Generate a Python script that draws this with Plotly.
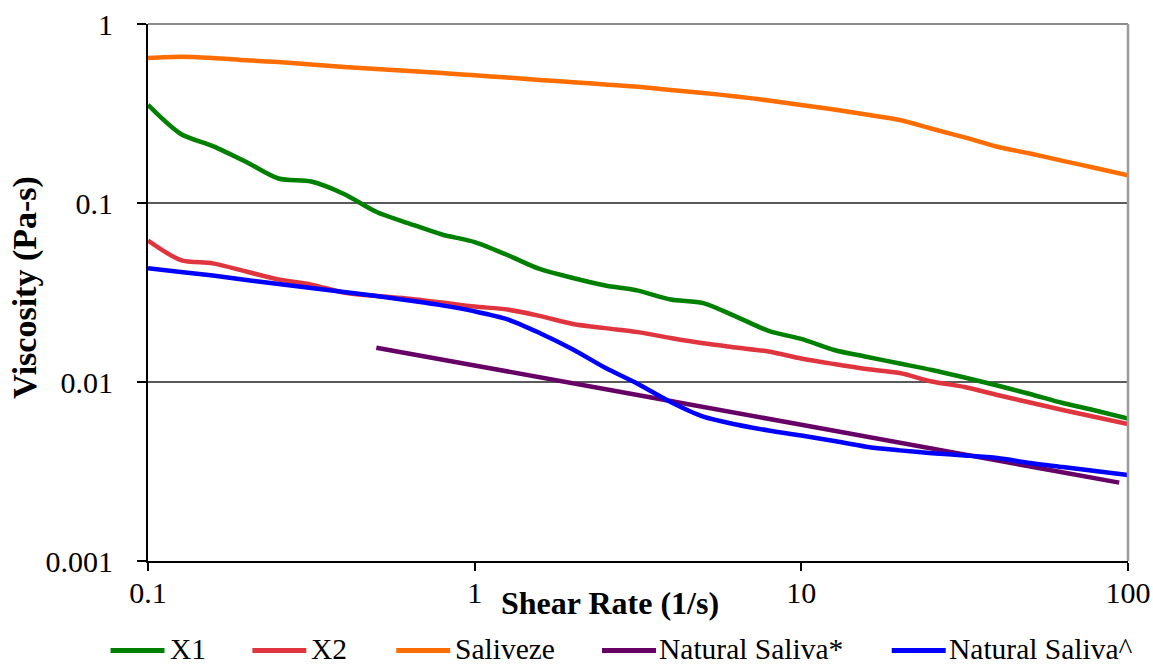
import plotly.graph_objects as go

# Shear rate grid (1/s), ten points per decade
shear_rate = [0.1, 0.126, 0.158, 0.2, 0.251, 0.316, 0.398, 0.501, 0.631, 0.794,
              1.0, 1.26, 1.58, 2.0, 2.51, 3.16, 3.98, 5.01, 6.31, 7.94,
              10.0, 12.6, 15.8, 20.0, 25.1, 31.6, 39.8, 50.1, 63.1, 79.4, 100.0]

# Viscosity (Pa-s) for each formulation
visc_x1 = [0.353, 0.243, 0.208, 0.1695, 0.137, 0.1318, 0.1123, 0.0891, 0.0768, 0.0667,
           0.0605, 0.0512, 0.0428, 0.0381, 0.0346, 0.0324, 0.0289, 0.0276, 0.0232, 0.0193,
           0.0174, 0.0151, 0.01384, 0.01269, 0.01167, 0.01059, 0.00956, 0.00857, 0.00763, 0.00693, 0.00625]
visc_x2 = [0.0617, 0.048, 0.0460, 0.0414, 0.0374, 0.0350, 0.0316, 0.0302, 0.0292, 0.0278,
           0.0264, 0.0254, 0.0234, 0.0211, 0.0200, 0.0190, 0.0176, 0.01645, 0.01559, 0.0148,
           0.01353, 0.0126, 0.01182, 0.01122, 0.01006, 0.00938, 0.00846, 0.00768, 0.00698, 0.00638, 0.00583]
visc_saliveze = [0.646, 0.657, 0.646, 0.627, 0.613, 0.594, 0.575, 0.561, 0.546, 0.532,
                 0.517, 0.502, 0.487, 0.473, 0.459, 0.446, 0.428, 0.412, 0.394, 0.374,
                 0.353, 0.333, 0.312, 0.291, 0.260, 0.2325, 0.2063, 0.189, 0.172, 0.157, 0.143]
visc_natural_caret = [0.0432, 0.0412, 0.0393, 0.0371, 0.0353, 0.0335, 0.0318, 0.0302, 0.0285, 0.0268,
                      0.0248, 0.0224, 0.0188, 0.0152, 0.0120, 0.00975, 0.00773, 0.0064, 0.00579, 0.00536,
                      0.00502, 0.00468, 0.00435, 0.00415, 0.0040, 0.00389, 0.00376, 0.00353, 0.00335, 0.00318, 0.00302]

# Natural Saliva* covers a narrower shear-rate span
shear_rate_star = [0.5, 1.0, 10.0, 94.0]
visc_natural_star = [0.01555, 0.01237, 0.00577, 0.00274]

x_ticks = [0.1, 1, 10, 100]
x_tick_text = ["0.1", "1", "10", "100"]
y_ticks = [0.001, 0.01, 0.1, 1]
y_tick_text = ["0.001", "0.01", "0.1", "1"]

series = [
    ("X1", shear_rate, visc_x1, "#008000"),
    ("X2", shear_rate, visc_x2, "#E0353F"),
    ("Saliveze", shear_rate, visc_saliveze, "#FF6D00"),
    ("Natural Saliva*", shear_rate_star, visc_natural_star, "#660066"),
    ("Natural Saliva^", shear_rate, visc_natural_caret, "#0000FF"),
]

FONT = "Liberation Serif"
W, H = 1153, 664
L, R, T, B = 147.5, 1128.5, 24, 561  # plot area edges in pixels


def px(xp):
    return (xp - L) / (R - L)


def py(yp):
    return (B - yp) / (B - T)


fig = go.Figure()
# draw order: Saliveze, X1, X2, Natural Saliva*, Natural Saliva^
for idx in [2, 0, 1, 3, 4]:
    name, xs, ys, color = series[idx]
    fig.add_trace(go.Scatter(
        x=xs, y=ys, name=name, mode="lines",
        line=dict(color=color, width=4.5, shape="spline", smoothing=0.8),
        showlegend=False,
    ))

shapes = [
    # top and right frame
    dict(type="line", xref="paper", yref="paper", x0=0, x1=1, y0=1, y1=1,
         line=dict(color="#8C8C8C", width=2), layer="above"),
    dict(type="line", xref="paper", yref="paper", x0=1, x1=1, y0=0, y1=1,
         line=dict(color="#9A9A9A", width=2.5), layer="above"),
]
annotations = [
    dict(text="<b>Viscosity (Pa-s)</b>", textangle=-90, xref="paper", yref="paper",
         x=px(24), y=py(287), xanchor="center", yanchor="middle", showarrow=False,
         font=dict(family=FONT, size=34, color="black")),
    dict(text="<b>Shear Rate (1/s)</b>", xref="paper", yref="paper",
         x=px(610), y=py(603), xanchor="center", yanchor="middle", showarrow=False,
         font=dict(family=FONT, size=32, color="black")),
]

# legend row along the bottom edge
legend_pos = [(110, 167.5), (252, 309), (396, 453), (602, 657), (892, 947)]
for (name, _, _, color), (lx, tx) in zip(series, legend_pos):
    shapes.append(dict(type="line", xref="paper", yref="paper",
                       x0=px(lx), x1=px(lx + 54), y0=py(650.5), y1=py(650.5),
                       line=dict(color=color, width=5)))
    annotations.append(dict(text=name, xref="paper", yref="paper",
                            x=px(tx), y=py(648.5), xanchor="left", yanchor="middle",
                            showarrow=False,
                            font=dict(family=FONT, size=29.5, color="black")))

fig.update_layout(
    width=W, height=H,
    margin=dict(l=L, r=W - R, t=T, b=H - B, pad=0, autoexpand=False),
    paper_bgcolor="white", plot_bgcolor="white",
    font=dict(family=FONT, size=30, color="black"),
    shapes=shapes, annotations=annotations,
    xaxis=dict(
        type="log", range=[-1, 2], tickvals=x_ticks, ticktext=x_tick_text,
        automargin=False,
        showgrid=False, zeroline=False,
        showline=True, linecolor="black", linewidth=2,
        ticks="outside", ticklen=8, tickwidth=1.5, tickcolor="black",
        ticklabelstandoff=-4,
        tickfont=dict(family=FONT, size=30, color="black"),
    ),
    yaxis=dict(
        type="log", range=[-3, 0], tickvals=y_ticks, ticktext=y_tick_text,
        automargin=False,
        showgrid=True, gridcolor="#5A5A5A", gridwidth=1.5, zeroline=False,
        showline=True, linecolor="black", linewidth=2,
        ticks="outside", ticklen=9, tickwidth=1.5, tickcolor="black",
        ticklabelstandoff=18,
        tickfont=dict(family=FONT, size=30, color="black"),
    ),
)

fig.write_html("out.html")
